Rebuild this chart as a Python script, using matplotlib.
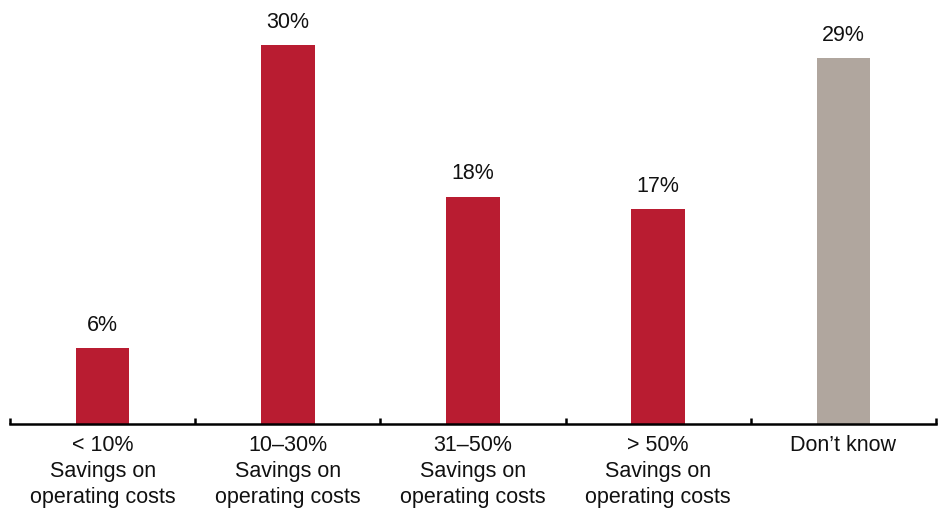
import numpy as np
import matplotlib.pyplot as plt

# data
categories = ['< 10%\nSavings on\noperating costs',
              '10\u201330%\nSavings on\noperating costs',
              '31\u201350%\nSavings on\noperating costs',
              '> 50%\nSavings on\noperating costs',
              'Don\u2019t know']
values = [6, 30, 18, 17, 29]
colors = ['#B91C31', '#B91C31', '#B91C31', '#B91C31', '#B0A69E']

plt.rcParams['font.family'] = ['Liberation Sans', 'DejaVu Sans']

fig = plt.figure(figsize=(9.46, 5.14), dpi=100)
ax = fig.add_axes([10/946, 90/514, 926/946, 424/514])

x = np.arange(len(values))
bars = ax.bar(x, values, width=0.29, color=colors)

for xi, v in zip(x, values):
    ax.annotate(f'{v}%', (xi, v), xytext=(0, 9), textcoords='offset points',
                ha='center', va='bottom', fontsize=15.5, color='#111111')

ax.set_xlim(-0.5, 4.5)
ax.set_ylim(0, 33.6)

for s in ['top', 'right', 'left']:
    ax.spines[s].set_visible(False)
ax.spines['bottom'].set_linewidth(1.8)
ax.set_yticks([])

ax.set_xticks(x)
ax.set_xticklabels(categories, fontsize=15.5, linespacing=1.3, color='#111111')
ax.tick_params(axis='x', which='major', length=0, pad=8)
ax.set_xticks(np.arange(-0.5, 5, 1), minor=True)
ax.tick_params(axis='x', which='minor', direction='in', length=4, width=1.8)

fig.savefig('out.png', dpi=100)
